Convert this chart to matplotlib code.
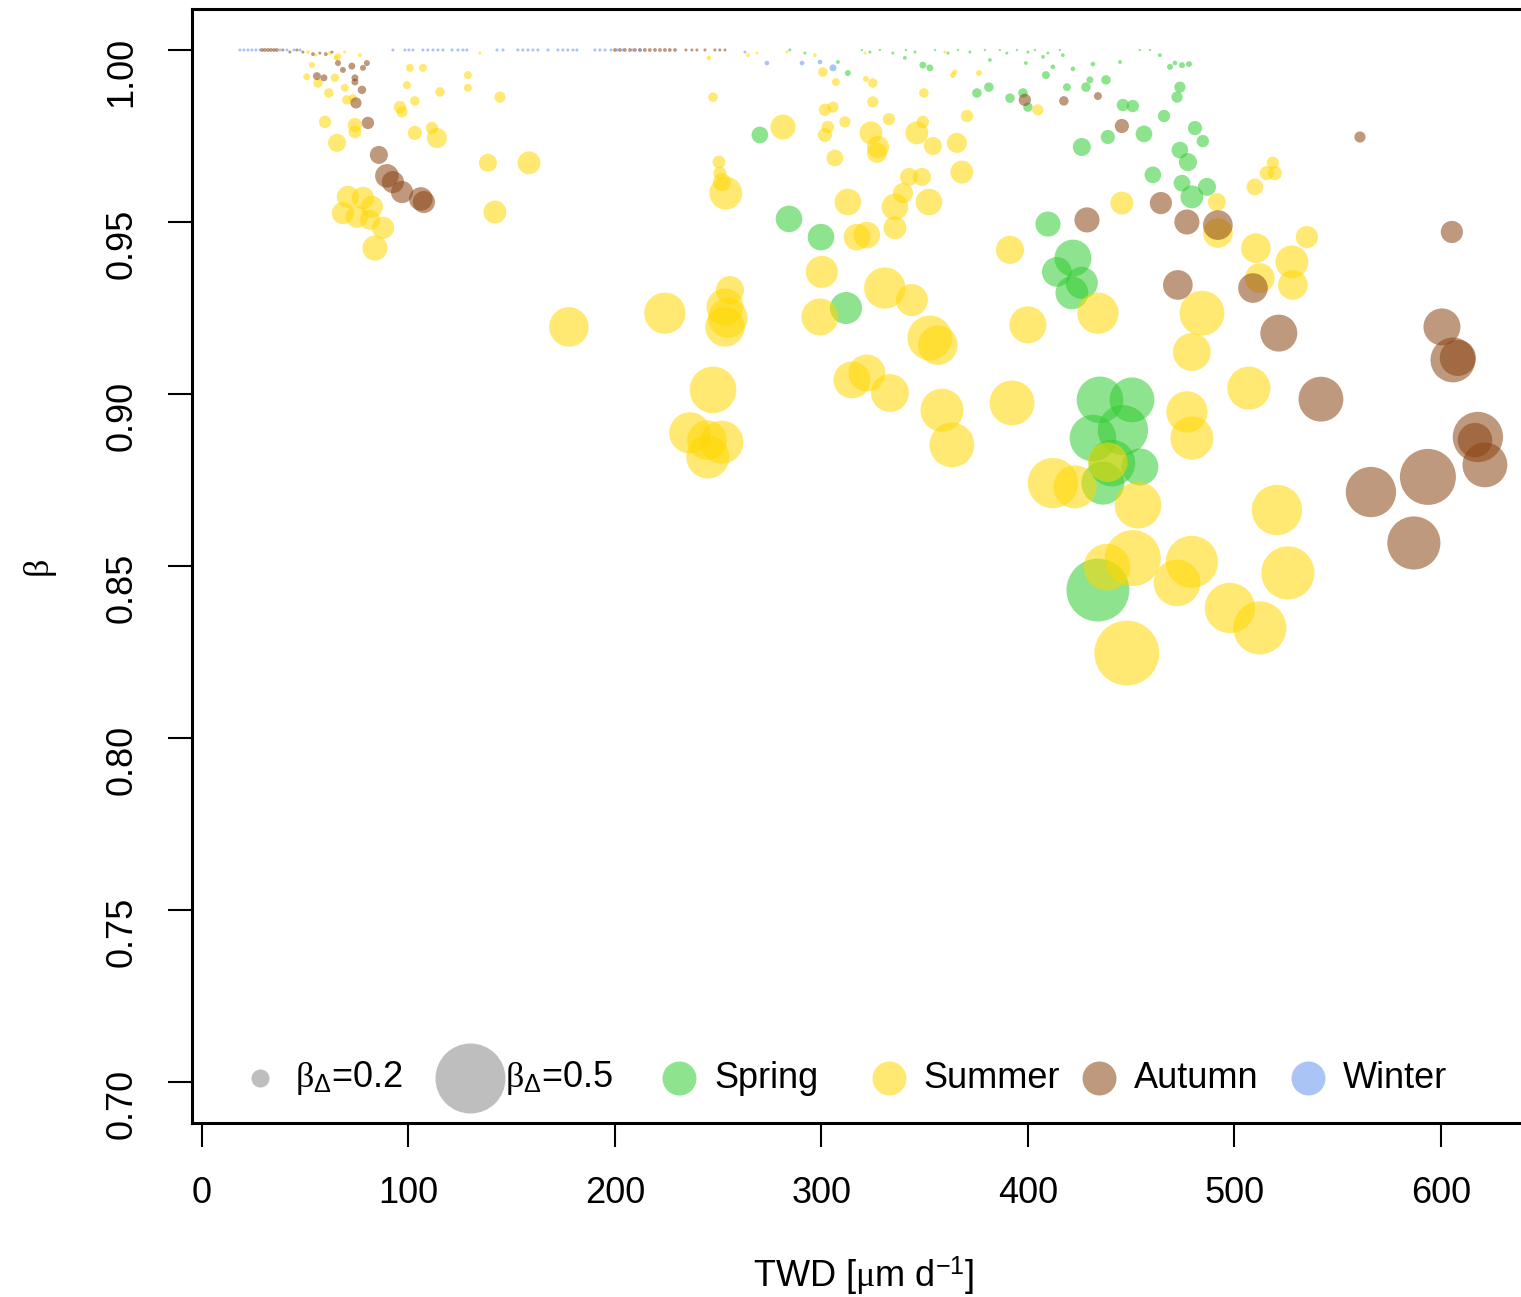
import matplotlib
matplotlib.use("Agg")
import matplotlib.pyplot as plt

plt.rcParams['font.family'] = ['Liberation Sans', 'DejaVu Sans']
plt.rcParams['mathtext.fontset'] = 'custom'
plt.rcParams['mathtext.rm'] = 'Liberation Sans'
plt.rcParams['mathtext.it'] = 'Liberation Serif'
plt.rcParams['mathtext.bf'] = 'Liberation Sans:bold'

# ---------------- data: TWD [um/d], beta, beta_delta ----------------
twd_spring = [270.2, 284.3, 299.8, 311.9, 312.8, 349.1, 352.5, 375.3, 381.1, 391.3,
              397.6, 400.0, 408.7, 418.9, 428.1, 430.0, 437.8, 446.0, 450.8, 438.7,
              426.1, 456.2, 465.9, 473.6, 472.2, 468.8, 474.6, 478.0, 480.9, 484.7,
              473.6, 477.5, 460.5, 474.6, 486.7, 479.4, 409.7, 421.8, 414.0, 426.1,
              421.3, 434.9, 450.4, 431.5, 446.0, 440.7, 454.2, 436.3, 433.9,
              284.7, 292.0, 308.0, 319.6, 323.5, 328.3, 334.6, 340.4, 340.9, 345.3,
              355.0, 361.3, 366.1, 371.9, 379.2, 381.6, 386.4, 389.8, 394.7, 399.0,
              400.0, 403.4, 407.3, 409.7, 412.1, 415.5, 416.9, 421.8, 431.5, 444.6,
              454.2, 459.1, 463.9, 471.2]
beta_spring = [0.9753, 0.9509, 0.9456, 0.9250, 0.9933, 0.9956, 0.9948, 0.9875, 0.9892, 0.9860,
               0.9875, 0.9834, 0.9927, 0.9892, 0.9892, 0.9913, 0.9913, 0.9840, 0.9837, 0.9747,
               0.9718, 0.9756, 0.9808, 0.9892, 0.9863, 0.9951, 0.9956, 0.9959, 0.9773, 0.9735,
               0.9709, 0.9674, 0.9637, 0.9613, 0.9602, 0.9573, 0.9494, 0.9395, 0.9355, 0.9323,
               0.9294, 0.8983, 0.8983, 0.8872, 0.8895, 0.8799, 0.8788, 0.8741, 0.8430,
               1.0000, 0.9991, 0.9965, 1.0000, 0.9994, 1.0000, 0.9991, 0.9977, 1.0000, 0.9994,
               1.0000, 0.9991, 1.0000, 0.9994, 1.0000, 0.9971, 1.0000, 0.9991, 1.0000, 0.9962,
               0.9994, 1.0000, 0.9980, 0.9991, 0.9951, 1.0000, 0.9985, 0.9945, 0.9959, 0.9965,
               1.0000, 1.0000, 0.9985, 0.9962]
bd_spring = [0.19, 0.26, 0.26, 0.295, 0.095, 0.105, 0.105, 0.13, 0.13, 0.13,
             0.13, 0.13, 0.115, 0.115, 0.13, 0.105, 0.13, 0.155, 0.155, 0.17,
             0.20, 0.19, 0.155, 0.145, 0.145, 0.095, 0.095, 0.095, 0.17, 0.155,
             0.19, 0.20, 0.19, 0.19, 0.20, 0.235, 0.25, 0.325, 0.28, 0.295,
             0.30, 0.38, 0.37, 0.38, 0.40, 0.38, 0.325, 0.36, 0.465,
             0.06, 0.06, 0.07, 0.05, 0.06, 0.05, 0.06, 0.07, 0.05, 0.06,
             0.05, 0.06, 0.05, 0.06, 0.05, 0.07, 0.05, 0.06, 0.05, 0.07,
             0.06, 0.05, 0.07, 0.06, 0.08, 0.05, 0.07, 0.08, 0.08, 0.07,
             0.05, 0.05, 0.07, 0.08]

twd_summer = [50.8, 53.3, 56.2, 61.5, 64.4, 65.9, 69.2, 70.2, 73.1, 59.6,
              74.1, 74.1, 65.4, 95.9, 96.9, 99.3, 100.7, 107.0, 103.1, 115.3,
              103.1, 111.4, 113.8, 128.8, 128.8, 144.3, 138.5, 158.4, 141.9, 70.7,
              78.0, 82.3, 68.3, 75.1, 81.4, 87.7, 83.8, 177.7, 224.2, 247.5,
              250.4, 250.8, 251.8, 253.7, 255.7, 253.3, 254.7, 253.3, 247.5, 236.3,
              244.6, 251.8, 245.0, 281.4, 300.2, 299.3, 312.8, 306.5, 301.7, 305.6,
              300.7, 307.0, 321.5, 324.9, 324.9, 311.4, 301.7, 303.1, 324.0, 327.4,
              326.9, 332.7, 346.2, 349.6, 349.1, 354.0, 365.6, 370.5, 368.0, 342.4,
              348.7, 339.5, 335.6, 352.1, 335.6, 317.2, 322.0, 330.7, 343.8, 352.5,
              356.4, 314.8, 322.0, 333.2, 358.4, 363.2, 392.3, 400.0, 391.3, 363.7,
              364.6, 376.3, 404.8, 433.9, 445.5, 412.1, 422.8, 438.7, 453.3, 450.8,
              438.3, 447.9, 472.2, 479.4, 484.3, 479.4, 477.0, 479.4, 492.0, 491.5,
              510.4, 535.1, 527.8, 528.3, 512.3, 507.0, 520.6, 525.9, 497.8, 512.3,
              509.9, 515.7, 518.6, 519.6,
              51.3, 55.2, 62.0, 64.9, 69.2, 76.5, 134.6, 245.5, 264.4, 268.8,
              283.3, 296.8, 321.1, 359.8]
beta_summer = [0.9922, 0.9956, 0.9904, 0.9875, 0.9919, 0.9980, 0.9890, 0.9855, 0.9860, 0.9791,
               0.9782, 0.9762, 0.9730, 0.9834, 0.9820, 0.9898, 0.9948, 0.9948, 0.9852, 0.9878,
               0.9759, 0.9773, 0.9744, 0.9927, 0.9890, 0.9863, 0.9672, 0.9672, 0.9529, 0.9573,
               0.9570, 0.9544, 0.9526, 0.9515, 0.9506, 0.9483, 0.9424, 0.9195, 0.9235, 0.9863,
               0.9674, 0.9642, 0.9616, 0.9584, 0.9302, 0.9253, 0.9221, 0.9195, 0.9012, 0.8887,
               0.8866, 0.8860, 0.8817, 0.9776, 0.9355, 0.9224, 0.9558, 0.9686, 0.9826, 0.9834,
               0.9936, 0.9907, 0.9916, 0.9904, 0.9849, 0.9791, 0.9753, 0.9776, 0.9759, 0.9718,
               0.9701, 0.9799, 0.9759, 0.9875, 0.9791, 0.9721, 0.9730, 0.9808, 0.9645, 0.9631,
               0.9631, 0.9584, 0.9544, 0.9558, 0.9483, 0.9456, 0.9462, 0.9308, 0.9273, 0.9163,
               0.9142, 0.9041, 0.9061, 0.9003, 0.8953, 0.8852, 0.8974, 0.9201, 0.9419, 0.9927,
               0.9936, 0.9933, 0.9826, 0.9235, 0.9555, 0.8741, 0.8730, 0.8802, 0.8677, 0.8523,
               0.8497, 0.8247, 0.8451, 0.8512, 0.9235, 0.9122, 0.8948, 0.8872, 0.9468, 0.9558,
               0.9424, 0.9456, 0.9384, 0.9317, 0.9337, 0.9017, 0.8663, 0.8480, 0.8378, 0.8320,
               0.9602, 0.9642, 0.9672, 0.9642,
               0.9994, 0.9985, 0.9991, 0.9977, 0.9994, 0.9985, 0.9991, 0.9977, 0.9985, 0.9991,
               0.9994, 0.9985, 0.9991, 0.9994]
bd_summer = [0.105, 0.095, 0.13, 0.13, 0.12, 0.105, 0.115, 0.13, 0.115, 0.155,
             0.17, 0.16, 0.20, 0.155, 0.145, 0.115, 0.115, 0.115, 0.13, 0.13,
             0.17, 0.155, 0.215, 0.115, 0.115, 0.145, 0.20, 0.235, 0.235, 0.23,
             0.23, 0.23, 0.23, 0.23, 0.215, 0.23, 0.25, 0.34, 0.35, 0.13,
             0.16, 0.16, 0.20, 0.30, 0.27, 0.325, 0.34, 0.34, 0.38, 0.35,
             0.34, 0.36, 0.36, 0.25, 0.295, 0.325, 0.26, 0.19, 0.155, 0.145,
             0.13, 0.115, 0.095, 0.13, 0.145, 0.145, 0.17, 0.155, 0.235, 0.23,
             0.215, 0.155, 0.235, 0.13, 0.155, 0.20, 0.215, 0.155, 0.235, 0.20,
             0.20, 0.215, 0.26, 0.26, 0.235, 0.26, 0.26, 0.35, 0.295, 0.37,
             0.34, 0.325, 0.325, 0.33, 0.36, 0.37, 0.37, 0.325, 0.27, 0.095,
             0.085, 0.095, 0.145, 0.35, 0.235, 0.40, 0.36, 0.34, 0.38, 0.43,
             0.38, 0.475, 0.38, 0.41, 0.37, 0.33, 0.35, 0.36, 0.28, 0.20,
             0.28, 0.23, 0.30, 0.28, 0.28, 0.36, 0.40, 0.415, 0.40, 0.415,
             0.19, 0.17, 0.155, 0.17,
             0.07, 0.06, 0.07, 0.08, 0.06, 0.07, 0.06, 0.08, 0.07, 0.06,
             0.06, 0.07, 0.06, 0.06]

twd_autumn = [55.7, 59.1, 65.9, 68.3, 72.6, 74.1, 74.1, 78.0, 79.9, 77.5,
              74.6, 80.4, 85.7, 89.6, 92.5, 96.9, 106.0, 107.5, 398.5, 417.4,
              433.9, 445.5, 464.4, 428.6, 477.0, 492.0, 472.6, 509.0, 521.5, 541.9,
              560.8, 605.3, 600.5, 605.8, 608.2, 566.1, 593.7, 617.9, 621.3, 616.5,
              586.9,
              29.1, 30.5, 32.0, 33.4, 34.9, 36.3, 39.2, 42.6, 46.0, 48.9,
              53.8, 57.1, 60.0, 63.0, 200.0, 202.4, 204.8, 207.3, 209.7, 212.1,
              214.5, 216.9, 219.4, 221.8, 224.2, 226.6, 229.1, 234.4, 237.3, 239.7,
              243.6, 248.4, 250.8, 253.3]
beta_autumn = [0.9924, 0.9919, 0.9962, 0.9942, 0.9953, 0.9919, 0.9907, 0.9948, 0.9962, 0.9884,
               0.9846, 0.9788, 0.9695, 0.9634, 0.9616, 0.9587, 0.9567, 0.9558, 0.9855, 0.9852,
               0.9866, 0.9779, 0.9555, 0.9506, 0.9500, 0.9491, 0.9317, 0.9308, 0.9177, 0.8985,
               0.9747, 0.9471, 0.9195, 0.9099, 0.9105, 0.8715, 0.8759, 0.8875, 0.8794, 0.8866,
               0.8567,
               1.0000, 1.0000, 1.0000, 1.0000, 1.0000, 1.0000, 1.0000, 0.9994, 1.0000, 0.9994,
               0.9988, 0.9991, 0.9988, 0.9994, 1.0000, 1.0000, 1.0000, 1.0000, 1.0000, 1.0000,
               1.0000, 1.0000, 1.0000, 1.0000, 1.0000, 1.0000, 1.0000, 1.0000, 1.0000, 1.0000,
               1.0000, 1.0000, 1.0000, 1.0000]
bd_autumn = [0.115, 0.105, 0.095, 0.095, 0.105, 0.105, 0.105, 0.095, 0.095, 0.12,
             0.145, 0.155, 0.20, 0.24, 0.23, 0.23, 0.24, 0.23, 0.155, 0.13,
             0.115, 0.17, 0.23, 0.25, 0.25, 0.28, 0.28, 0.28, 0.325, 0.37,
             0.145, 0.23, 0.325, 0.37, 0.32, 0.40, 0.43, 0.40, 0.37, 0.31,
             0.415,
             0.07, 0.07, 0.07, 0.07, 0.07, 0.07, 0.06, 0.06, 0.06, 0.06,
             0.07, 0.06, 0.07, 0.06, 0.07, 0.07, 0.07, 0.07, 0.07, 0.07,
             0.07, 0.07, 0.07, 0.07, 0.07, 0.07, 0.07, 0.06, 0.06, 0.06,
             0.06, 0.06, 0.06, 0.06]

twd_winter = [18.4, 20.3, 22.3, 24.2, 26.1, 28.1, 37.8, 41.2, 44.6, 47.5,
              92.5, 98.3, 100.2, 102.2, 107.0, 109.4, 111.9, 114.3, 116.7, 121.1,
              124.0, 126.4, 128.3, 142.9, 145.8, 153.0, 155.4, 157.9, 160.3, 162.7,
              167.6, 172.4, 174.8, 177.2, 179.7, 181.6, 190.3, 192.7, 195.2, 198.1,
              201.0, 203.9, 208.7, 212.1, 263.0, 273.6, 290.6, 299.3, 305.6]
beta_winter = [1.0000, 1.0000, 1.0000, 1.0000, 1.0000, 1.0000, 1.0000, 1.0000, 1.0000, 1.0000,
               1.0000, 1.0000, 1.0000, 1.0000, 1.0000, 1.0000, 1.0000, 1.0000, 1.0000, 1.0000,
               1.0000, 1.0000, 1.0000, 1.0000, 1.0000, 1.0000, 1.0000, 1.0000, 1.0000, 1.0000,
               1.0000, 1.0000, 1.0000, 1.0000, 1.0000, 1.0000, 1.0000, 1.0000, 1.0000, 1.0000,
               1.0000, 1.0000, 1.0000, 1.0000, 0.9994, 0.9962, 0.9962, 0.9965, 0.9948]
bd_winter = [0.06, 0.06, 0.06, 0.06, 0.06, 0.06, 0.06, 0.06, 0.06, 0.06,
             0.06, 0.06, 0.06, 0.06, 0.06, 0.06, 0.06, 0.06, 0.06, 0.06,
             0.06, 0.06, 0.06, 0.06, 0.06, 0.06, 0.06, 0.06, 0.06, 0.06,
             0.06, 0.06, 0.06, 0.06, 0.06, 0.06, 0.06, 0.06, 0.06, 0.06,
             0.06, 0.06, 0.06, 0.06, 0.06, 0.08, 0.08, 0.08, 0.105]

season_names = ["Spring", "Summer", "Autumn", "Winter"]
season_colors = ["limegreen", "gold", "saddlebrown", "cornflowerblue"]
legend_bdelta = [0.2, 0.5]

x_ticks = [0, 100, 200, 300, 400, 500, 600]
y_ticks = [0.70, 0.75, 0.80, 0.85, 0.90, 0.95, 1.00]

DPI = 100


def marker_area(bd):
    """Marker area (pt^2) from beta_delta."""
    d_px = 70.0 * (bd / 0.5) ** 1.48
    d_pt = d_px * 72.0 / DPI
    return d_pt ** 2


fig = plt.figure(figsize=(15.21, 12.97), dpi=DPI)
ax = fig.add_axes([192 / 1521, 0.1339, 1343.9 / 1521, 0.8594])

series = [(twd_spring, beta_spring, bd_spring),
          (twd_summer, beta_summer, bd_summer),
          (twd_autumn, beta_autumn, bd_autumn),
          (twd_winter, beta_winter, bd_winter)]
ALPHA = 0.55
for (xs, ys, bds), col in zip(series, season_colors):
    ax.scatter(xs, ys, s=[marker_area(b) for b in bds], c=col, alpha=ALPHA,
               linewidths=0, zorder=2)

ax.set_xlim(-4.8, 646)
ax.set_ylim(0.688, 1.012)
ax.set_xticks(x_ticks)
ax.set_xticklabels([str(t) for t in x_ticks])
ax.set_yticks(y_ticks)
ax.set_yticklabels([f"{t:.2f}" for t in y_ticks])

for sp in ax.spines.values():
    sp.set_linewidth(2.2)
ax.tick_params(direction='out', length=17, width=1.5, labelsize=26, pad=21)
ax.tick_params(axis='y', labelrotation=90)

ax.set_xlabel(r'TWD [$\mu$m d$^{-1}$]', fontsize=26)
ax.xaxis.set_label_coords(0.5, -0.1373)
ax.xaxis.label.set_va('center')
ax.set_ylabel('β', fontsize=26, family=['Liberation Serif', 'DejaVu Serif'])
ax.yaxis.set_label_coords(-0.1146, 0.5)
ax.yaxis.label.set_va('center')

# legend row along the bottom of the panel
leg_y = 0.0406
x0 = 0.0506
step = 0.156
txt_off = 0.026
legend_labels = [r'$\beta_{\Delta}$=' + f'{legend_bdelta[0]}',
                 r'$\beta_{\Delta}$=' + f'{legend_bdelta[1]}'] + season_names
legend_colors = ["#BEBEBE", "#BEBEBE"]
legend_sizes = [marker_area(legend_bdelta[0]), marker_area(legend_bdelta[1])]
for col in season_colors:
    legend_colors.append(col)
    legend_sizes.append((34 * 72.0 / DPI) ** 2)
for i, (lab, col, sz) in enumerate(zip(legend_labels, legend_colors, legend_sizes)):
    xc = x0 + i * step
    a = 1.0 if i < 2 else ALPHA
    ax.scatter([xc], [leg_y], s=sz, c=col, alpha=a, linewidths=0,
               transform=ax.transAxes, clip_on=False, zorder=3)
    ax.text(xc + txt_off, leg_y, lab, transform=ax.transAxes, fontsize=26,
            ha='left', va='center', zorder=3)

fig.savefig("out.png", dpi=DPI)
